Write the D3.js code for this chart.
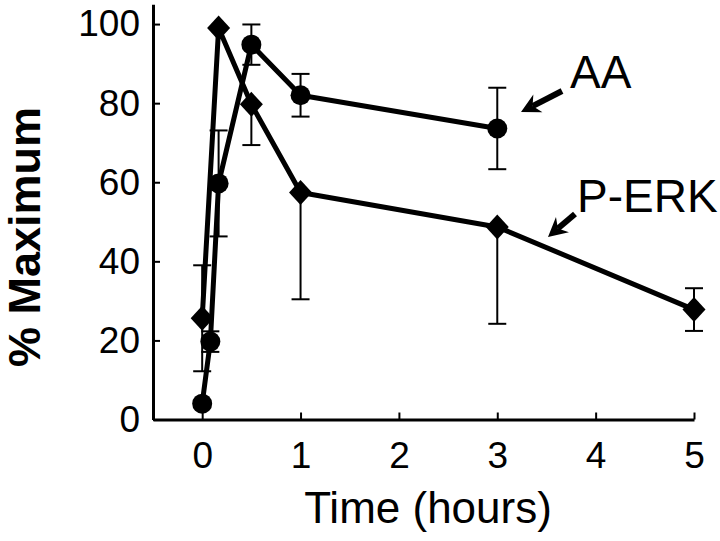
<!DOCTYPE html>
<html><head><meta charset="utf-8">
<script src="https://cdn.jsdelivr.net/npm/d3@7"></script>
<style>
html,body{margin:0;padding:0;background:#fff;}
svg{display:block;}
text{font-family:"Liberation Sans",Arial,Helvetica,sans-serif;fill:#000;}
</style></head><body>
<svg id="chart" width="720" height="541"></svg>
<script>
// ---- data ----
const aaTimes = [0, 0.083, 0.167, 0.5, 1, 3];
const aaValues = [4, 19.7, 59.7, 94.8, 82, 73.6];
const aaErrLow = [0, 2.6, 13.4, 5.1, 5.4, 10.3];
const aaErrHigh = [0, 2.6, 13.4, 5.1, 5.4, 10.3];

const perkTimes = [0, 0.167, 0.5, 1, 3, 5];
const perkValues = [25.6, 99, 79.7, 57.4, 48.7, 27.8];
const perkErrLow = [13.4, 0, 10.3, 27, 24.5, 5.4];
const perkErrHigh = [13.4, 0, 0, 0, 0, 5.4];

const xTicks = [0, 1, 2, 3, 4, 5];
const yTicks = [0, 20, 40, 60, 80, 100];
const seriesLabels = ["AA", "P-ERK"];
const xTitle = "Time (hours)";
const yTitle = "% Maximum";

// ---- layout ----
const svg = d3.select("#chart");
const x = d3.scaleLinear().domain([-0.5, 5]).range([153, 694]);
const y = d3.scaleLinear().domain([0, 105]).range([419.5, 4.3]);

const aa = aaTimes.map((t, i) => ({t, v: aaValues[i], lo: aaErrLow[i], hi: aaErrHigh[i]}));
const perk = perkTimes.map((t, i) => ({t, v: perkValues[i], lo: perkErrLow[i], hi: perkErrHigh[i]}));

// axes
const yAxis = d3.axisLeft(y).tickValues(yTicks).tickFormat(d3.format("d"))
  .tickSizeInner(-7).tickSizeOuter(0).tickPadding(13);
const gy = svg.append("g").attr("transform", `translate(${x(-0.5)},0)`).call(yAxis);
const xAxis = d3.axisBottom(x).tickValues(xTicks).tickFormat(d3.format("d"))
  .tickSizeInner(-7).tickSizeOuter(0).tickPadding(22);
const gx = svg.append("g").attr("transform", `translate(0,${y(0)})`).call(xAxis);
[gx, gy].forEach(g => {
  g.select(".domain").attr("stroke", "#000").attr("stroke-width", 3);
  g.selectAll(".tick line").attr("stroke", "#000").attr("stroke-width", 2);
  g.selectAll(".tick text").attr("font-size", 37).attr("font-family", "Liberation Sans, Arial, sans-serif").attr("fill", "#000");
});
gx.selectAll(".tick text").attr("dy", "0.71em");

// titles
svg.append("text").attr("x", 428).attr("y", 523).attr("text-anchor", "middle")
  .attr("font-size", 44).text(xTitle);
svg.append("text").attr("transform", "translate(40,237) rotate(-90)").attr("text-anchor", "middle")
  .attr("font-size", 45).attr("font-weight", "bold").text(yTitle);

// lines
const line = d3.line().x(d => x(d.t)).y(d => y(d.v));
[aa, perk].forEach(s => {
  svg.append("path").datum(s).attr("d", line).attr("fill", "none")
    .attr("stroke", "#000").attr("stroke-width", 5).attr("stroke-linejoin", "round");
});

// error bars
function errBars(s) {
  const g = svg.append("g").attr("stroke", "#000").attr("stroke-width", 2);
  s.forEach(d => {
    const cx = x(d.t);
    if (d.hi > 0) {
      g.append("line").attr("x1", cx).attr("x2", cx).attr("y1", y(d.v)).attr("y2", y(d.v + d.hi));
      g.append("line").attr("x1", cx - 9).attr("x2", cx + 9).attr("y1", y(d.v + d.hi)).attr("y2", y(d.v + d.hi));
    }
    if (d.lo > 0) {
      g.append("line").attr("x1", cx).attr("x2", cx).attr("y1", y(d.v)).attr("y2", y(d.v - d.lo));
      g.append("line").attr("x1", cx - 9).attr("x2", cx + 9).attr("y1", y(d.v - d.lo)).attr("y2", y(d.v - d.lo));
    }
  });
}
errBars(aa);
errBars(perk);

// markers
svg.append("g").selectAll("circle").data(aa).join("circle")
  .attr("cx", d => x(d.t)).attr("cy", d => y(d.v)).attr("r", 10).attr("fill", "#000");
svg.append("g").selectAll("path").data(perk).join("path")
  .attr("d", d => { const cx = x(d.t), cy = y(d.v); return `M${cx},${cy-12.5}L${cx+11.5},${cy}L${cx},${cy+12.5}L${cx-11.5},${cy}Z`; })
  .attr("fill", "#000");

// annotations with arrows
function arrow(x1, y1, x2, y2) {
  const ang = Math.atan2(y2 - y1, x2 - x1);
  const L = 19, W = 10, notch = 13;
  const ux = Math.cos(ang), uy = Math.sin(ang);
  const px = -uy, py = ux;
  const bx = x2 - ux * L, by = y2 - uy * L;
  const nx = x2 - ux * notch, ny = y2 - uy * notch;
  svg.append("line").attr("x1", x1).attr("y1", y1).attr("x2", nx).attr("y2", ny)
    .attr("stroke", "#000").attr("stroke-width", 6);
  svg.append("path").attr("d", `M${x2},${y2}L${bx + px * W},${by + py * W}L${nx},${ny}L${bx - px * W},${by - py * W}Z`)
    .attr("fill", "#000");
}
arrow(562, 91, 521, 112);
arrow(575, 214, 548, 237);
svg.append("text").attr("x", 570).attr("y", 88).attr("font-size", 46).text(seriesLabels[0]);
svg.append("text").attr("x", 577).attr("y", 212).attr("font-size", 46).text(seriesLabels[1]);
</script>
</body></html>
